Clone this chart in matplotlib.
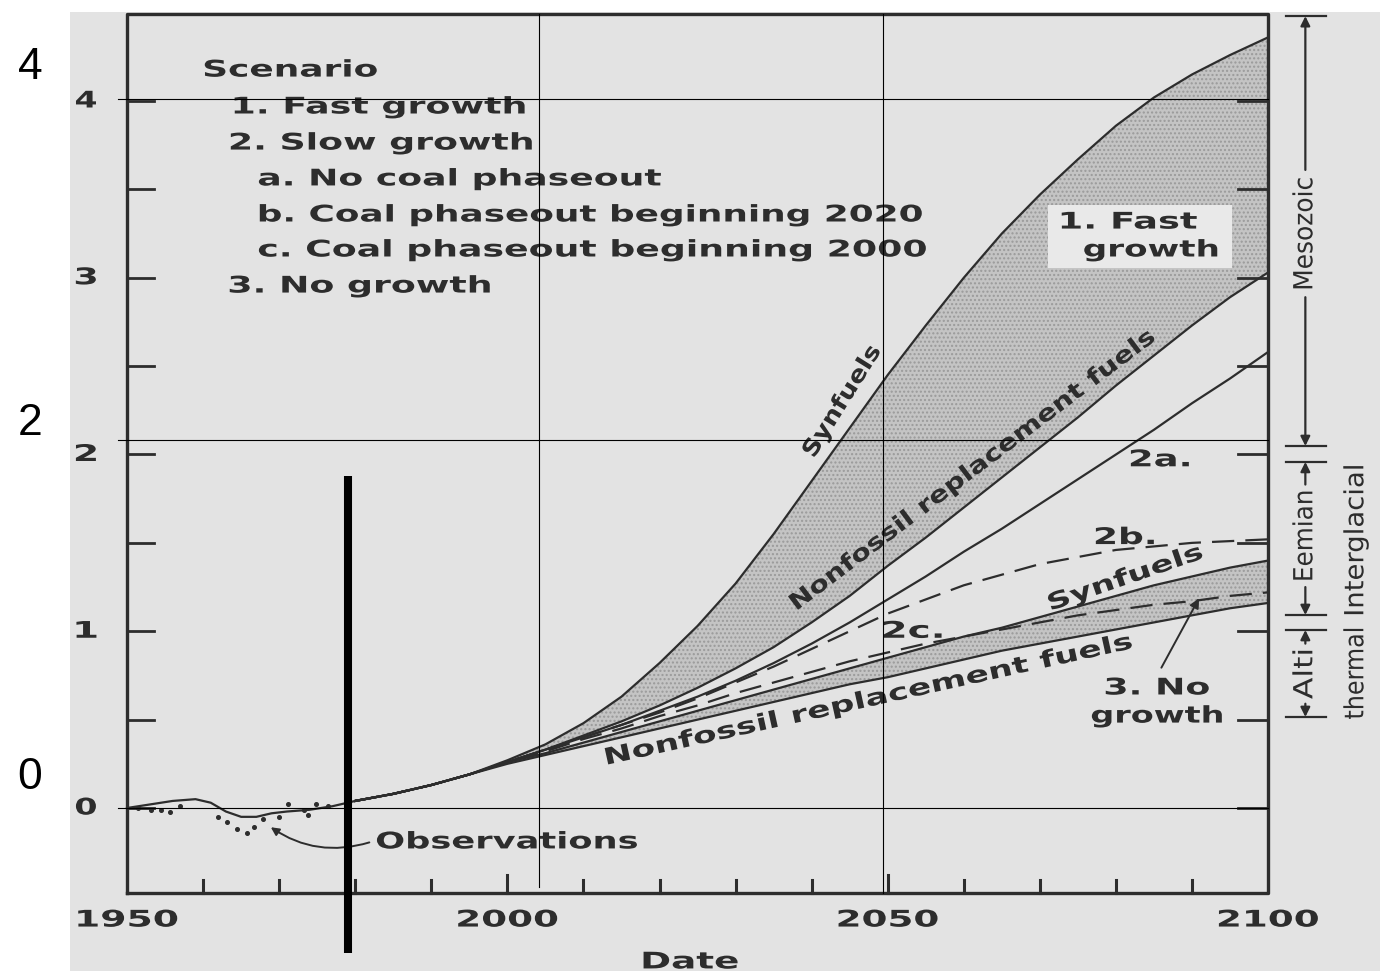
import numpy as np
import matplotlib
matplotlib.use("Agg")
import matplotlib.pyplot as plt
from matplotlib.patches import Rectangle
from matplotlib.patheffects import AbstractPathEffect
from matplotlib.transforms import Affine2D

# ---- data (temperature change, deg C) ----
model_years = [1980, 1985, 1990, 1995, 2000, 2005, 2010, 2015, 2020, 2025, 2030, 2035, 2040,
               2045, 2050, 2055, 2060, 2065, 2070, 2075, 2080, 2085, 2090, 2095, 2100]
fast_synfuels = [0.04, 0.08, 0.13, 0.19, 0.27, 0.36, 0.48, 0.63, 0.82, 1.03, 1.27, 1.55, 1.85,
                 2.15, 2.45, 2.73, 3.00, 3.25, 3.47, 3.67, 3.86, 4.02, 4.15, 4.26, 4.36]
fast_nonfossil = [0.04, 0.08, 0.13, 0.19, 0.26, 0.33, 0.41, 0.49, 0.58, 0.68, 0.79, 0.91, 1.05,
                  1.20, 1.37, 1.53, 1.70, 1.87, 2.04, 2.21, 2.39, 2.56, 2.73, 2.89, 3.03]
slow_2a = [0.04, 0.08, 0.13, 0.19, 0.26, 0.33, 0.40, 0.47, 0.55, 0.63, 0.72, 0.82, 0.93,
           1.05, 1.18, 1.31, 1.45, 1.58, 1.72, 1.86, 2.00, 2.14, 2.29, 2.43, 2.58]
slow_2b = [0.04, 0.08, 0.13, 0.19, 0.26, 0.33, 0.40, 0.47, 0.54, 0.62, 0.71, 0.80, 0.90,
           1.00, 1.10, 1.18, 1.26, 1.32, 1.38, 1.42, 1.46, 1.48, 1.50, 1.51, 1.52]
slow_2c = [0.04, 0.08, 0.13, 0.19, 0.26, 0.32, 0.39, 0.45, 0.52, 0.58, 0.65, 0.71, 0.77,
           0.83, 0.88, 0.93, 0.97, 1.01, 1.05, 1.09, 1.12, 1.15, 1.17, 1.20, 1.22]
nogrowth_synfuels = [0.04, 0.08, 0.13, 0.19, 0.26, 0.31, 0.37, 0.43, 0.49, 0.55, 0.61, 0.67, 0.73,
                     0.79, 0.85, 0.91, 0.97, 1.02, 1.08, 1.14, 1.20, 1.26, 1.31, 1.36, 1.40]
nogrowth_nonfossil = [0.04, 0.08, 0.13, 0.19, 0.25, 0.30, 0.35, 0.40, 0.45, 0.50, 0.55, 0.60, 0.65,
                      0.70, 0.74, 0.79, 0.84, 0.89, 0.93, 0.97, 1.01, 1.05, 1.09, 1.13, 1.16]

obs_line_years = [1950, 1953, 1956, 1959, 1961, 1963, 1965, 1967, 1969, 1971, 1974, 1977, 1980]
obs_line_vals = [0.0, 0.02, 0.04, 0.05, 0.03, -0.02, -0.05, -0.05, -0.03, -0.02, -0.01, 0.01, 0.04]
obs_dot_years = [1951.5, 1953.2, 1954.4, 1955.6, 1957.0, 1962.0, 1963.2, 1964.4, 1965.8,
                 1966.7, 1967.9, 1970.0, 1971.1, 1973.2, 1973.8, 1974.9, 1976.4]
obs_dot_vals = [0.0, -0.01, -0.01, -0.02, 0.01, -0.05, -0.08, -0.12, -0.14,
                -0.11, -0.06, -0.05, 0.02, -0.01, -0.04, 0.02, 0.01]

x_ticklabels = ["1950", "2000", "2050", "2100"]
y_ticklabels = ["0", "1", "2", "3", "4"]
legend_lines = ["Scenario", "1. Fast growth", "2. Slow growth", "a. No coal phaseout",
                "b. Coal phaseout beginning 2020", "c. Coal phaseout beginning 2000", "3. No growth"]

# overlay drawn on top of the scan
overlay_hlines = [0.0, 2.08, 4.01]
overlay_vlines = [2004.2, 2049.4]
overlay_labels = ["0", "2", "4"]
observation_marker = 1979.05

INK = "#2d2d2d"


class Stretch(AbstractPathEffect):
    """draw text glyphs stretched along the baseline (the scan uses an extended face)"""
    def __init__(self, sx=1.0, width=None, anchor=0.5):
        super().__init__()
        self.sx = sx
        self.width = width
        self.anchor = anchor

    def draw_path(self, renderer, gc, tpath, affine, rgbFace=None):
        x0, y0, x1, y1 = tpath.get_extents().extents
        sx = self.sx
        if self.width is not None:
            m = affine.get_matrix()
            sx = self.width / ((x1 - x0) * np.hypot(m[0, 0], m[1, 0]))
        cx = x0 + (x1 - x0) * self.anchor
        t = Affine2D().translate(-cx, 0).scale(sx, 1).translate(cx, 0) + affine
        renderer.draw_path(gc, tpath, t, rgbFace)


def label(ax, x, y, s, width, size=16.5, rot=0, ha="center", weight="bold", color=INK):
    anchor = 0.0 if ha == "left" else 0.5
    ax.text(x, y, s, fontsize=size, fontweight=weight, color=color, ha=ha, va="center",
            rotation=rot, rotation_mode="anchor", family="DejaVu Sans",
            path_effects=[Stretch(width=width, anchor=anchor)])


fig = plt.figure(figsize=(13.85, 9.71), dpi=100)
ax = fig.add_axes([0, 0, 1, 1])
ax.set_xlim(1933.30, 2115.37)
ax.set_ylim(-0.9222, 4.5714)
ax.axis("off")

# scanned page background
ax.add_patch(Rectangle((1942.5, -0.922), 2114.71 - 1942.5, 4.503 + 0.922,
                       facecolor="#e3e3e3", edgecolor="none", zorder=0))

# shaded bands
ax.fill_between(model_years, fast_nonfossil, fast_synfuels, facecolor="#c4c4c4",
                edgecolor="#9a9a9a", hatch="....", linewidth=0, zorder=1)
ax.fill_between(model_years, nogrowth_nonfossil, nogrowth_synfuels, facecolor="#c4c4c4",
                edgecolor="#9a9a9a", hatch="....", linewidth=0, zorder=1)

# scenario curves
for vals in [fast_synfuels, fast_nonfossil, slow_2a, nogrowth_synfuels, nogrowth_nonfossil]:
    ax.plot(model_years, vals, color=INK, lw=1.6, zorder=3)
for vals in [slow_2b, slow_2c]:
    ax.plot(model_years, vals, color=INK, lw=1.6, dashes=(10, 5), zorder=3)

# observations
ax.plot(obs_line_years, obs_line_vals, color=INK, lw=1.6, zorder=3)
ax.plot(obs_dot_years, obs_dot_vals, ls="none", marker="o", ms=2.6, color=INK, zorder=3)

# frame and ticks
ax.plot([1950, 2100, 2100, 1950, 1950], [-0.48, -0.48, 4.49, 4.49, -0.48], color=INK, lw=2.4, zorder=4)
for yr in np.arange(1960, 2100, 10):
    tick_len = 0.1 if yr in (2000, 2050) else 0.07
    ax.plot([yr, yr], [-0.48, -0.48 + tick_len], color=INK, lw=2.2, zorder=4)
for v in np.arange(0, 4.5, 0.5):
    ax.plot([1950, 1953.6], [v, v], color=INK, lw=2.0, zorder=4)
    ax.plot([2096.0, 2100], [v, v], color=INK, lw=2.0, zorder=4)

# tick labels of the scan
for s in x_ticklabels:
    label(ax, int(s), -0.634, s, 99)
for s in y_ticklabels:
    label(ax, 1944.6, int(s), s, 20)
label(ax, 2024.0, -0.871, "Date", 94)

# scenario list
legend_x = [1960.0, 1963.8, 1963.4, 1967.2, 1967.2, 1967.2, 1963.3]
legend_y = [4.175, 3.966, 3.762, 3.559, 3.355, 3.157, 2.953]
legend_w = [172, 290, 301, 402, 662, 667, 260]
for s, x, y, w in zip(legend_lines, legend_x, legend_y, legend_w):
    label(ax, x, y, s, w, ha="left")

# curve labels
ax.add_patch(Rectangle((2071.1, 3.055), 24.2, 0.357, facecolor="#e9e9e9", edgecolor="none", zorder=2))
label(ax, 2081.6, 3.315, "1. Fast", 135)
label(ax, 2084.6, 3.157, "growth", 133)
label(ax, 2044.0, 2.30, "Synfuels", 125, rot=58)
label(ax, 2061.1, 1.91, "Nonfossil replacement fuels", 448, rot=37)
label(ax, 2085.8, 1.97, "2a.", 58)
label(ax, 2081.2, 1.53, "2b.", 58)
label(ax, 2081.2, 1.30, "Synfuels", 160, rot=19)
label(ax, 2053.3, 1.00, "2c.", 58)
label(ax, 2047.4, 0.61, "Nonfossil replacement fuels", 537, rot=12.5)
label(ax, 2085.4, 0.679, "3. No", 103)
label(ax, 2085.4, 0.52, "growth", 130)
ax.annotate("", xy=(2091.1, 1.20), xytext=(2085.8, 0.78),
            arrowprops=dict(arrowstyle="-|>", color=INK, lw=1.4, mutation_scale=14), zorder=5)

label(ax, 1982.7, -0.192, "Observations", 260, ha="left")
ax.annotate("", xy=(1968.6, -0.10), xytext=(1982.2, -0.19),
            arrowprops=dict(arrowstyle="-|>", color=INK, lw=1.4, mutation_scale=12,
                            connectionstyle="arc3,rad=-0.25"), zorder=5)

# geological analogue bars on the right
bar_x = 2104.9
bar_ends = [4.48, 2.048, 1.958, 1.092, 1.007, 0.515]
for v in bar_ends:
    ax.plot([2102.3, 2107.6], [v, v], color=INK, lw=1.6, zorder=4)
arrow = dict(arrowstyle="-|>", color=INK, lw=1.6, mutation_scale=14, shrinkA=0, shrinkB=0)
for top, bot, mid, half in [(4.48, 2.048, 3.25, 0.36), (1.958, 1.092, 1.54, 0.29), (1.007, 0.515, 0.76, 0.17)]:
    ax.annotate("", xy=(bar_x, top), xytext=(bar_x, mid + half), arrowprops=arrow)
    ax.annotate("", xy=(bar_x, bot), xytext=(bar_x, mid - half), arrowprops=arrow)
label(ax, bar_x, 3.25, "Mesozoic", 110, size=19, rot=90, weight="normal")
label(ax, bar_x, 1.54, "Eemian", 88, size=19, rot=90, weight="normal")
label(ax, bar_x, 0.76, "Alti", 48, size=19, rot=90, weight="normal")
label(ax, 2111.6, 1.516, "Interglacial", 148, size=19, rot=90, weight="normal")
label(ax, 2111.6, 0.764, "thermal", 90, size=19, rot=90, weight="normal")

# overlay grid and marker
for v in overlay_hlines:
    ax.plot([1948.8, 2100], [v, v], color="black", lw=0.8, zorder=6)
ax.plot([overlay_vlines[0]] * 2, [4.49, -0.447], color="black", lw=0.8, zorder=6)
ax.plot([overlay_vlines[1]] * 2, [4.49, -0.48], color="black", lw=0.8, zorder=6)
ax.plot([observation_marker] * 2, [1.878, -0.82], color="black", lw=5.8, solid_capstyle="butt", zorder=6)
for s, y in zip(overlay_labels, [0.170, 2.178, 4.187]):
    ax.text(1937.24, y, s, fontsize=32, color="black", ha="center", va="center", family="Liberation Sans")

fig.savefig("out.png", dpi=100, facecolor="white")
